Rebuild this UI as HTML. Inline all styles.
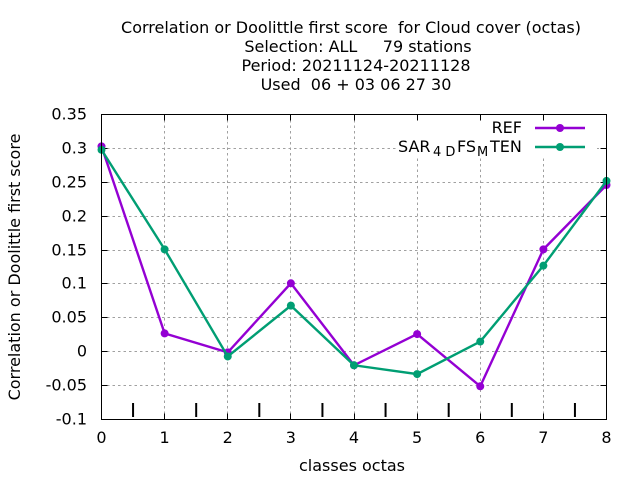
<!DOCTYPE html>
<html>
<head>
<meta charset="utf-8">
<title>Correlation or Doolittle first score</title>
<style>
html,body{margin:0;padding:0;background:#fff;}
svg{display:block;}
text{font-family:"DejaVu Sans",sans-serif;fill:#000;}
</style>
</head>
<body>
<svg id="chart" width="640" height="480" viewBox="0 0 640 480" xmlns="http://www.w3.org/2000/svg">
<rect x="0" y="0" width="640" height="480" fill="#fff"/>
<g id="grid"></g>
<g id="minor"></g>
<rect x="397" y="119" width="200" height="37" fill="#fff"/>
<g id="ticks"></g>
<g id="series"></g>
<rect x="101.5" y="114.5" width="505" height="305" fill="none" stroke="#000" stroke-width="1"/>
<g font-size="16" text-anchor="middle">
<text x="351" y="33" xml:space="preserve">Correlation or Doolittle first score  for Cloud cover (octas)</text>
<text x="358" y="52" xml:space="preserve">Selection: ALL     79 stations</text>
<text x="356" y="71">Period: 20211124-20211128</text>
<text x="356" y="90" xml:space="preserve">Used  06 + 03 06 27 30</text>
</g>
<text font-size="16" text-anchor="middle" transform="translate(20,267) rotate(-90)">Correlation or Doolittle first score</text>
<text font-size="16" text-anchor="middle" x="352" y="471">classes octas</text>
<g id="xlabels" font-size="16" text-anchor="middle"></g>
<g id="ylabels" font-size="16" text-anchor="end"></g>
<g>
<text x="522" y="133" font-size="16" text-anchor="end">REF</text>
<text y="152" font-size="16"><tspan x="398">SAR</tspan><tspan font-size="13" x="433" dy="4">4 D</tspan><tspan x="457" dy="-4">FS</tspan><tspan font-size="13" x="477" dy="4">M</tspan><tspan x="490" dy="-4">TEN</tspan></text>
<g id="legendmarks"></g>
</g>
</svg>
<script>
var categories = [0, 1, 2, 3, 4, 5, 6, 7, 8];
var refValues = [0.303, 0.027, -0.001, 0.101, -0.020, 0.026, -0.051, 0.151, 0.246];
var tenValues = [0.298, 0.151, -0.007, 0.068, -0.020, -0.033, 0.015, 0.127, 0.252];
var xTickValues = [0, 1, 2, 3, 4, 5, 6, 7, 8];
var yTickValues = [-0.1, -0.05, 0, 0.05, 0.1, 0.15, 0.2, 0.25, 0.3, 0.35];
var yTickLabels = ['-0.1', '-0.05', '0', '0.05', '0.1', '0.15', '0.2', '0.25', '0.3', '0.35'];
var boundaryMarks = [0.5, 1.5, 2.5, 3.5, 4.5, 5.5, 6.5, 7.5];
var SVGNS = 'http://www.w3.org/2000/svg';
var L = 101.5, R = 606.5, T = 114.5, B = 419.5;
function xScale(v) { return L + (v - 0) / 8 * (R - L); }
function yScale(v) { return B - (v + 0.1) / 0.45 * (B - T); }
function mk(tag, parent, attrs) {
  var el = document.createElementNS(SVGNS, tag);
  for (var k in attrs) el.setAttribute(k, attrs[k]);
  parent.appendChild(el);
  return el;
}
var grid = document.getElementById('grid');
var ticks = document.getElementById('ticks');
var minor = document.getElementById('minor');
var xl = document.getElementById('xlabels');
var yl = document.getElementById('ylabels');
var dash = {stroke: '#a0a0a0', 'stroke-width': 1, 'stroke-dasharray': '2.5 3'};
function line(parent, x1, y1, x2, y2, style) {
  var a = {x1: x1, y1: y1, x2: x2, y2: y2};
  for (var k in style) a[k] = style[k];
  return mk('line', parent, a);
}
xTickValues.forEach(function (v) {
  var x = Math.round(xScale(v) - 0.5) + 0.5;
  if (v > 0 && v < 8) {
    var g = line(grid, x, T, x, B, dash);
    
    
  }
  var t1 = line(ticks, x, B, x, B - 6, {stroke: '#000', 'stroke-width': 1});
  
  
  var t2 = line(ticks, x, T, x, T + 6, {stroke: '#000', 'stroke-width': 1});
  
  
  var lab = mk('text', xl, {x: xScale(v), y: 443});
  lab.textContent = String(v);
  
  
});
yTickValues.forEach(function (v, i) {
  var y = Math.round(yScale(v) - 0.5) + 0.5;
  if (i > 0 && i < yTickValues.length - 1) {
    var g = line(grid, L, y, R, y, dash);
    
    
  }
  var t1 = line(ticks, L, y, L + 6, y, {stroke: '#000', 'stroke-width': 1});
  
  
  var t2 = line(ticks, R, y, R - 6, y, {stroke: '#000', 'stroke-width': 1});
  
  
  var lab = mk('text', yl, {x: 87, y: y + 5});
  lab.textContent = yTickLabels[i];
  
  
});
boundaryMarks.forEach(function (v) {
  var m = line(minor, xScale(v), 403, xScale(v), 417, {stroke: '#000', 'stroke-width': 2});
  
  
});
function drawSeries(name, values, color) {
  var g = mk('g', document.getElementById('series'), {});
  
  
  var pts = values.map(function (v, i) { return xScale(categories[i]) + ',' + yScale(v); }).join(' ');
  var pl = mk('polyline', g, {points: pts, fill: 'none', stroke: color, 'stroke-width': 2.4, 'stroke-linejoin': 'miter'});
  
  
  values.forEach(function (v, i) {
    var c = mk('circle', g, {cx: xScale(categories[i]), cy: yScale(v), r: 4, fill: color});
    
    
  });
}
drawSeries('series-ref', refValues, '#9400d3');
drawSeries('series-ten', tenValues, '#009e73');
var lm = document.getElementById('legendmarks');
function legendSample(name, y, color) {
  var s = line(lm, 535, y, 585, y, {stroke: color, 'stroke-width': 2.4});
  
  
  var c = mk('circle', lm, {cx: 560, cy: y, r: 4, fill: color});
  
  
}
legendSample('legend-sample-ref', 128, '#9400d3');
legendSample('legend-sample-ten', 147, '#009e73');
</script>
</body>
</html>
